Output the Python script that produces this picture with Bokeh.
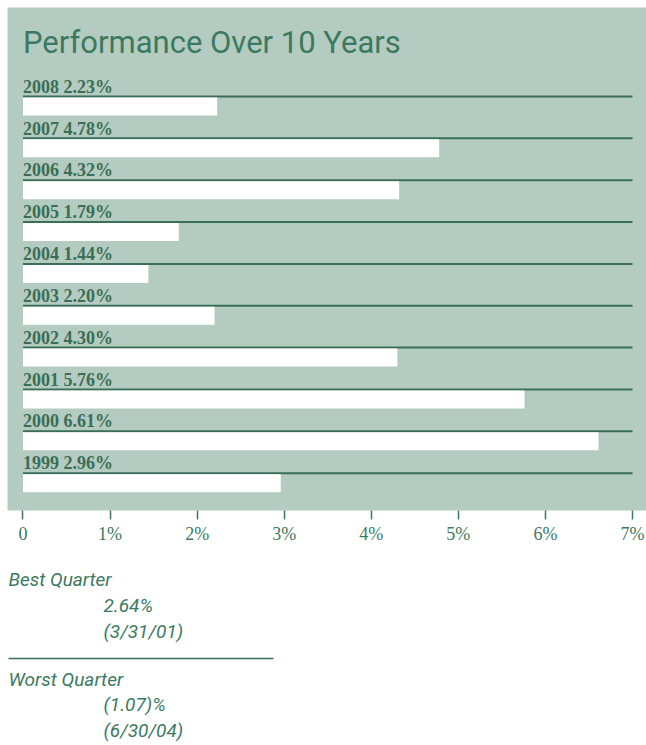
from bokeh.plotting import figure
from bokeh.models import Range1d, Label, FixedTicker, ColumnDataSource
from bokeh.layouts import column
from bokeh.embed import file_html
from bokeh.resources import INLINE

# ---- data ----
years = ["2008", "2007", "2006", "2005", "2004", "2003", "2002", "2001", "2000", "1999"]
returns = [2.23, 4.78, 4.32, 1.79, 1.44, 2.20, 4.30, 5.76, 6.61, 2.96]
tick_values = [0, 1, 2, 3, 4, 5, 6, 7]
tick_labels = ["0", "1%", "2%", "3%", "4%", "5%", "6%", "7%"]
title_text = "Performance Over 10 Years"
best_label = "Best Quarter"
best_lines = ["2.64%", "(3/31/01)"]
worst_label = "Worst Quarter"
worst_lines = ["(1.07)%", "(6/30/04)"]

# ---- style ----
PANEL = "#b4cbc1"
GREEN = "#3b7a5e"
DARK = "#3a6e56"
SANS = "Roboto"
SERIF = "Liberation Serif"

rows = list(range(len(years)))
labels = [f"{y} {r:.2f}%" for y, r in zip(years, returns)]
src = ColumnDataSource(dict(
    row=rows,
    bar_y=[i + 0.239 for i in rows],
    label_y=[i - 0.235 for i in rows],
    ret=returns,
    zero=[0] * len(rows),
    end=[tick_values[-1]] * len(rows),
    label=labels,
))

W = 646
H1 = 547
p = figure(width=W, height=H1, output_backend="svg", toolbar_location=None,
           x_range=Range1d(-0.178, 7.161), y_range=Range1d(9.892, -2.127),
           min_border_left=7, min_border_right=0, min_border_top=7, min_border_bottom=37,
           background_fill_color=PANEL, border_fill_color="white", outline_line_color=None)
p.grid.visible = False
p.yaxis.visible = False

# row rules
p.segment(x0="zero", y0="row", x1="end", y1="row", source=src, line_color=DARK, line_width=2)
# bars
p.hbar(y="bar_y", left="zero", right="ret", height=0.43, source=src,
       fill_color="white", line_color=None)
# row labels
p.text(x="zero", y="label_y", text="label", source=src,
       text_font=SERIF, text_font_style="bold", text_font_size="18px",
       text_color=DARK, text_baseline="alphabetic", text_align="left")

p.add_layout(Label(x=0, y=-1.29, text=title_text, text_font=SANS,
                   text_font_size="31px", text_color=GREEN, text_baseline="alphabetic"))

ax = p.xaxis[0]
ax.ticker = FixedTicker(ticks=tick_values)
ax.major_label_overrides = {v: t for v, t in zip(tick_values, tick_labels)}
ax.axis_line_color = None
ax.major_tick_in = 0
ax.major_tick_out = 9
ax.major_tick_line_color = GREEN
ax.major_tick_line_width = 1.5
ax.minor_tick_line_color = None
ax.major_label_standoff = 4
ax.major_label_text_font = SERIF
ax.major_label_text_font_size = "18px"
ax.major_label_text_color = GREEN

# ---- bottom text block ----
H2 = 745 - H1
q = figure(width=W, height=H2, output_backend="svg", toolbar_location=None,
           x_range=Range1d(7, W), y_range=Range1d(H2, 0),
           min_border_left=7, min_border_right=0, min_border_top=0, min_border_bottom=0,
           outline_line_color=None, background_fill_color="white")
q.axis.visible = False
q.grid.visible = False

def qlabel(x, y, t):
    q.add_layout(Label(x=x, y=y, text=t, text_font=SANS, text_font_style="italic",
                       text_font_size="19px", text_color=GREEN, text_baseline="alphabetic"))

qlabel(8, 32, best_label)
qlabel(103, 58, best_lines[0])
qlabel(103, 84, best_lines[1])
q.segment(x0=[8], y0=[111], x1=[273], y1=[111], line_color=DARK, line_width=1.5)
qlabel(8, 132, worst_label)
qlabel(103, 157, worst_lines[0])
qlabel(103, 183, worst_lines[1])

layout = column(p, q, spacing=0)
open("out.html", "w").write(file_html(layout, INLINE))
